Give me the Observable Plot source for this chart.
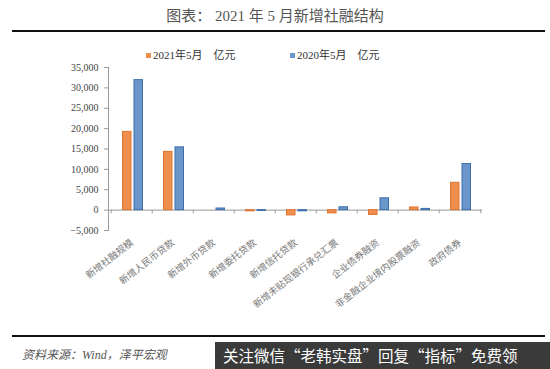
<!DOCTYPE html>
<html><head><meta charset="utf-8">
<script src="https://cdn.jsdelivr.net/npm/d3@7"></script>
<script src="https://cdn.jsdelivr.net/npm/@observablehq/plot@0.6"></script>
<style>
body{margin:0;background:#fff;}
#wrap{position:relative;width:550px;height:369px;overflow:hidden;background:#fff;font-family:"Liberation Serif","Noto Sans CJK SC",serif;}
#title{position:absolute;top:4px;left:0;width:550px;text-align:center;font-size:15px;color:#555;}
.hr{position:absolute;left:12px;width:533px;height:2px;background:#111;}
#legend{position:absolute;top:46px;left:0;width:550px;font-size:11px;color:#333;}
.lg{position:absolute;top:0;white-space:pre;}
.sw{display:inline-block;width:5px;height:5px;margin-right:2px;vertical-align:1px;}
#plot{position:absolute;top:60px;left:0;}
#src{position:absolute;top:345px;left:22px;font-size:12px;font-style:italic;color:#555;}
#wm{position:absolute;left:215px;top:342px;width:340px;height:27px;background:#3a3a3a;color:#fff;font-family:"Noto Sans CJK SC",sans-serif;font-size:15.5px;line-height:27px;padding-left:8px;white-space:nowrap;}
</style></head>
<body>
<div id="wrap">
  <div id="title">图表：&nbsp;2021 年 5 月新增社融结构</div>
  <div class="hr" style="top:30px"></div>
  <div id="legend"></div>
  <div id="plot"></div>
  <div class="hr" style="top:335px"></div>
  <div id="src">资料来源：Wind，泽平宏观</div>
  <div id="wm">关注微信“老韩实盘”回复“指标”免费领</div>
</div>
<script>
const categories = ["新增社融规模","新增人民币贷款","新增外币贷款","新增委托贷款","新增信托贷款","新增未贴现银行承兑汇票","企业债券融资","非金融企业境内股票融资","政府债券"];
const values2021 = [19200, 14300, 0, -300, -1300, -800, -1200, 650, 6700];
const values2020 = [31900, 15400, 400, -200, -300, 700, 2900, 300, 11300];
const seriesNames = ["2021年5月　亿元", "2020年5月　亿元"];
const seriesColors = ["#EE8F4E", "#6A96CA"];
const seriesStrokes = ["#E07530", "#3D6FAE"];
const yTicks = [-5000, 0, 5000, 10000, 15000, 20000, 25000, 30000, 35000];

const d21 = categories.map((c, i) => ({cat: c, v: values2021[i]}));
const d20 = categories.map((c, i) => ({cat: c, v: values2020[i]}));

const lg = document.getElementById("legend");
[146, 290].forEach((x, i) => {
  const s = document.createElement("span");
  s.className = "lg"; s.style.left = x + "px";
  s.innerHTML = `<span class="sw" style="background:${seriesColors[i]}"></span>${seriesNames[i]}`;
  lg.appendChild(s);
});

const W = 550, H = 275, ML = 108, MR = 68;
const bw = (W - ML - MR) / categories.length;
const chart = Plot.plot({
  width: W, height: H,
  marginLeft: ML, marginRight: MR, marginTop: 7, marginBottom: 105,
  style: {fontFamily: "'Liberation Serif','Noto Sans CJK SC',serif", background: "transparent"},
  x: {domain: categories, padding: 0, axis: null, label: null},
  y: {domain: [-5000, 35000], label: null},
  marks: [
    Plot.ruleY([0], {stroke: "#9a9a9a"}),
    Plot.ruleX(categories, {x: d => d, y1: 0, y2: -900, dx: -bw / 2, stroke: "#9a9a9a"}),
    Plot.ruleX([categories[categories.length - 1]], {x: d => d, y1: 0, y2: -900, dx: bw / 2, stroke: "#9a9a9a"}),
    Plot.barY(d21, {x: "cat", y: "v", fill: seriesColors[0], stroke: seriesStrokes[0], strokeWidth: 1, insetLeft: 11.5, insetRight: 21}),
    Plot.barY(d20, {x: "cat", y: "v", fill: seriesColors[1], stroke: seriesStrokes[1], strokeWidth: 1, insetLeft: 23, insetRight: 9.5}),
    Plot.frame({anchor: "left", stroke: "#9a9a9a"}),
    Plot.axisY({ticks: yTicks, tickFormat: d3.format(","), tickSize: 4, tickPadding: 6, fontSize: 10, color: "#444", stroke: "#9a9a9a", label: null, fontFamily: "'Liberation Serif',serif"}),
    Plot.axisX({tickSize: 0, tickRotate: -38, tickPadding: 11, fontSize: 9.5, color: "#777", label: null, fontFamily: "'Noto Sans CJK SC',sans-serif"})
  ]
});
document.getElementById("plot").appendChild(chart);
</script>
</body></html>
